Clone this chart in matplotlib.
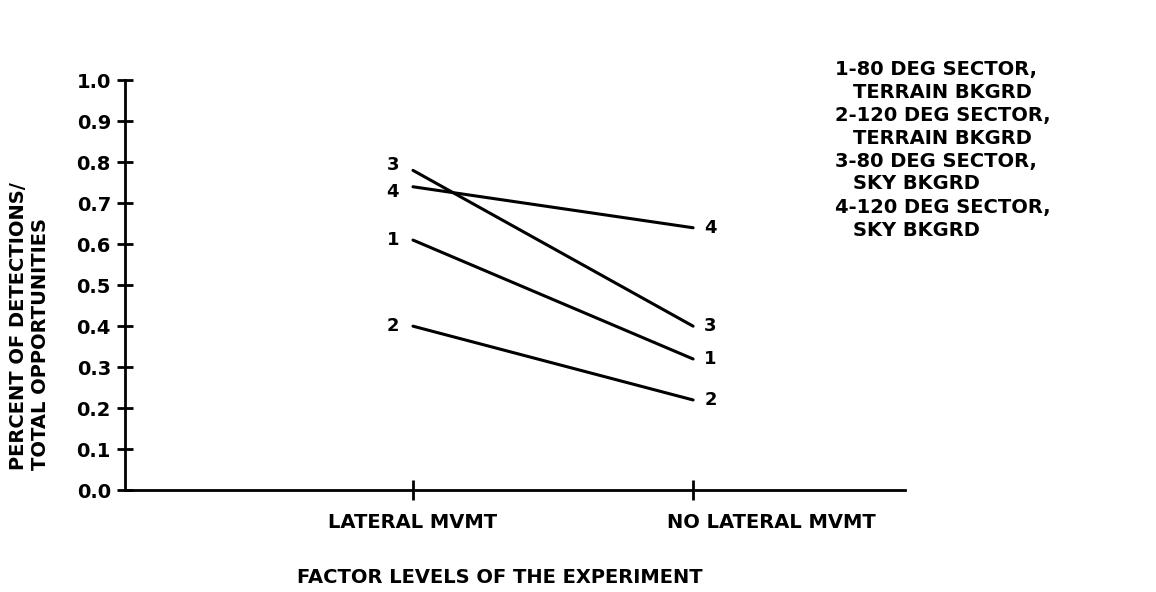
import numpy as np
import matplotlib.pyplot as plt

# detection rates, series 1-4
levels = ['LATERAL MVMT', 'NO LATERAL MVMT']
series_ids = ['1', '2', '3', '4']
lateral = [0.61, 0.40, 0.78, 0.74]
no_lateral = [0.32, 0.22, 0.40, 0.64]
yticks = [0.0, 0.1, 0.2, 0.3, 0.4, 0.5, 0.6, 0.7, 0.8, 0.9, 1.0]
legend_lines = [
    ('1-80 DEG SECTOR,', 'TERRAIN BKGRD'),
    ('2-120 DEG SECTOR,', 'TERRAIN BKGRD'),
    ('3-80 DEG SECTOR,', 'SKY BKGRD'),
    ('4-120 DEG SECTOR,', 'SKY BKGRD'),
]

plt.rcParams['font.family'] = 'DejaVu Sans'
plt.rcParams['font.weight'] = 'bold'
fs = 14

fig = plt.figure(figsize=(11.56, 5.92), dpi=100)
ax = fig.add_axes([0.108, 0.172, 0.675, 0.6926])

xpos = [1, 2]
# 3 and 4 start almost on top of each other, nudge their labels apart
left_nudge = [0, 0, 0.012, -0.012]
for i, sid in enumerate(series_ids):
    ax.plot(xpos, [lateral[i], no_lateral[i]], color='black', lw=2.2,
            solid_capstyle='round')
    ax.text(xpos[0] - 0.05, lateral[i] + left_nudge[i], sid, ha='right',
            va='center', fontsize=13, fontweight='bold')
    ax.text(xpos[1] + 0.04, no_lateral[i], sid, ha='left', va='center',
            fontsize=13, fontweight='bold')

ax.set_xlim(-0.0286, 2.757)
ax.set_ylim(0, 1.0)

for s in ['top', 'right']:
    ax.spines[s].set_visible(False)
for s in ['left', 'bottom']:
    ax.spines[s].set_linewidth(2)

ax.set_yticks(yticks)
ax.set_yticklabels(['%.1f' % v for v in yticks], fontsize=fs, fontweight='bold')
ax.tick_params(axis='y', direction='inout', length=12, width=2, pad=4)
ax.set_xticks(xpos)
ax.set_xticklabels([])
ax.tick_params(axis='x', direction='inout', length=14, width=2)

# category labels under the axis
ax.text(xpos[0], -0.08, levels[0], ha='center', va='center', fontsize=fs,
        fontweight='bold')
ax.text(xpos[1] + 0.28, -0.08, levels[1], ha='center', va='center',
        fontsize=fs, fontweight='bold')

fig.text(0.432, 0.025, 'FACTOR LEVELS OF THE EXPERIMENT', ha='center',
         va='center', fontsize=fs, fontweight='bold')

# two-line y label
fig.text(0.016, 0.206, 'PERCENT OF DETECTIONS/', rotation=90, ha='center',
         va='bottom', fontsize=fs, fontweight='bold')
fig.text(0.035, 0.206, 'TOTAL OPPORTUNITIES', rotation=90, ha='center',
         va='bottom', fontsize=fs, fontweight='bold')

# legend block top right
row = 0
for first, second in legend_lines:
    y1 = 1 - (69 + row * 23) / 592
    y2 = 1 - (69 + (row + 1) * 23) / 592
    fig.text(0.722, y1, first, ha='left', va='center', fontsize=fs,
             fontweight='bold')
    fig.text(0.738, y2, second, ha='left', va='center', fontsize=fs,
             fontweight='bold')
    row += 2

fig.savefig('out.png', dpi=100)
